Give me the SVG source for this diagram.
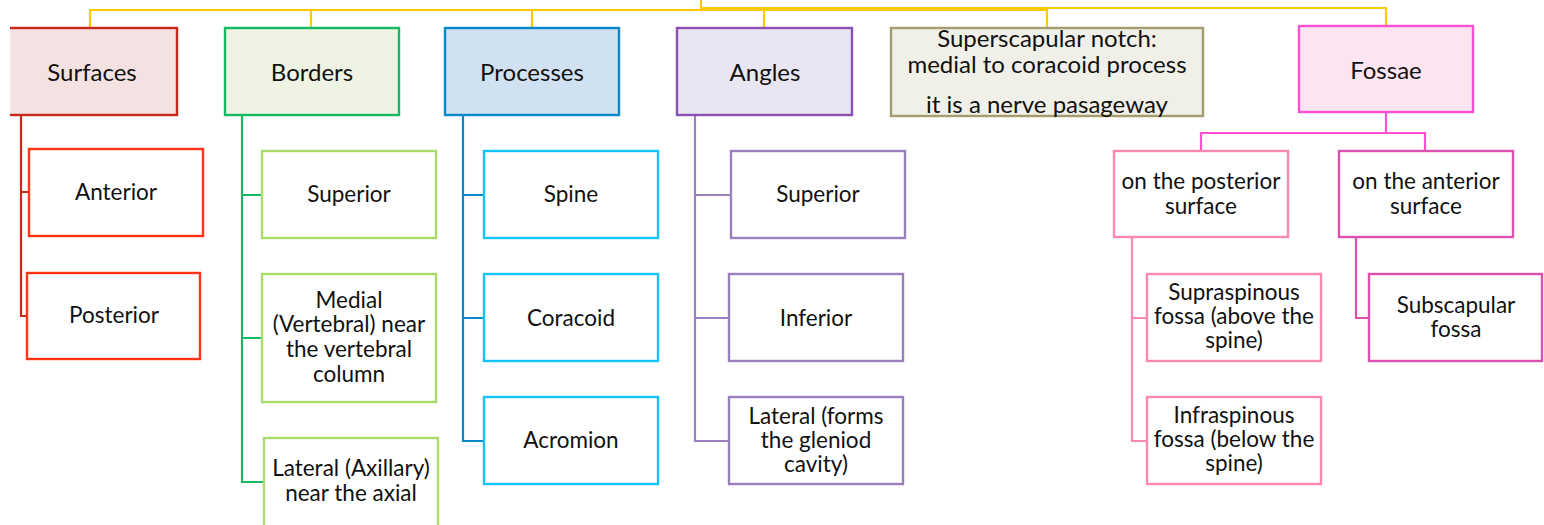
<svg xmlns="http://www.w3.org/2000/svg" width="1544" height="525" viewBox="0 0 1544 525">
  <style>
    .box { stroke-width: 2.4; }
    .head { font-family: Lato, "Open Sans", sans-serif; font-size: 24px; fill: #111; text-anchor: middle; }
    .lbl { font-family: Lato, "Open Sans", sans-serif; font-size: 22.5px; fill: #111; text-anchor: middle; }
    .wire { fill: none; stroke-width: 2.2; }
  </style>
  <defs>
    <clipPath id="page">
      <rect x="10" y="0" width="1534" height="525"/>
    </clipPath>
  </defs>
  <rect x="0" y="0" width="1544" height="525" fill="#ffffff"/>

  <g clip-path="url(#page)">
    <!-- connectors -->
    <g id="connectors">
      <!-- top-level bar -->
      <path class="wire" stroke="#ffc800" d="M701 0 V9 M90 28 V10 H701 M311 28 V10 M532 28 V10 M701 10 H1047 V28 M701 8 H1386 V26 M764 28 V8"/>
      <!-- Surfaces -->
      <path class="wire" stroke="#c8281a" d="M21 115 V316 H27 M21 192 H29"/>
      <!-- Borders -->
      <path class="wire" stroke="#12b862" d="M242 115 V482 H263 M242 195 H262 M242 338 H262"/>
      <!-- Processes -->
      <path class="wire" stroke="#0a88cc" d="M463 115 V441 H484 M463 195 H484 M463 318 H484"/>
      <!-- Angles -->
      <path class="wire" stroke="#9a80bc" d="M695 115 V441 H729 M695 195 H731 M695 318 H729"/>
      <!-- Fossae -->
      <path class="wire" stroke="#ff50d4" d="M1386 112 V133 M1201 151 V133 H1425 V151"/>
      <path class="wire" stroke="#ff88b0" d="M1132 237 V441 H1147 M1132 318 H1147"/>
      <path class="wire" stroke="#dc50b0" d="M1356 237 V318 H1369"/>
    </g>

    <!-- Surfaces -->
    <g id="surfaces">
      <rect class="box" x="4" y="28" width="173" height="87" fill="#f4e2e2" stroke="#c8281a"/>
      <text class="head" x="92" y="81">Surfaces</text>
    </g>
    <g id="surf-anterior">
      <rect class="box" x="29" y="149" width="174" height="87" fill="#fff" stroke="#ff3414"/>
      <text class="lbl" x="116" y="200">Anterior</text>
    </g>
    <g id="surf-posterior">
      <rect class="box" x="27" y="273" width="173" height="86" fill="#fff" stroke="#ff3414"/>
      <text class="lbl" x="114" y="323">Posterior</text>
    </g>

    <!-- Borders -->
    <g id="borders">
      <rect class="box" x="225" y="28" width="174" height="87" fill="#eff3e4" stroke="#12b862"/>
      <text class="head" x="312" y="81">Borders</text>
    </g>
    <g id="border-superior">
      <rect class="box" x="262" y="151" width="174" height="87" fill="#fff" stroke="#a8da6c"/>
      <text class="lbl" x="349" y="202">Superior</text>
    </g>
    <g id="border-medial">
      <rect class="box" x="262" y="274" width="174" height="128" fill="#fff" stroke="#a8da6c"/>
      <text class="lbl" x="349" y="308">Medial</text>
      <text class="lbl" x="349" y="332">(Vertebral) near</text>
      <text class="lbl" x="349" y="357">the vertebral</text>
      <text class="lbl" x="349" y="382">column</text>
    </g>
    <g id="border-lateral">
      <rect class="box" x="264" y="438" width="174" height="92" fill="#fff" stroke="#a8da6c"/>
      <text class="lbl" x="351" y="476">Lateral (Axillary)</text>
      <text class="lbl" x="351" y="501">near the axial</text>
    </g>

    <!-- Processes -->
    <g id="processes">
      <rect class="box" x="445" y="28" width="174" height="87" fill="#d0e2f2" stroke="#0a88cc"/>
      <text class="head" x="532" y="81">Processes</text>
    </g>
    <g id="proc-spine">
      <rect class="box" x="484" y="151" width="174" height="87" fill="#fff" stroke="#14c4f4"/>
      <text class="lbl" x="571" y="202">Spine</text>
    </g>
    <g id="proc-coracoid">
      <rect class="box" x="484" y="274" width="174" height="87" fill="#fff" stroke="#14c4f4"/>
      <text class="lbl" x="571" y="326">Coracoid</text>
    </g>
    <g id="proc-acromion">
      <rect class="box" x="484" y="397" width="174" height="87" fill="#fff" stroke="#14c4f4"/>
      <text class="lbl" x="571" y="448">Acromion</text>
    </g>

    <!-- Angles -->
    <g id="angles">
      <rect class="box" x="677" y="28" width="175" height="87" fill="#e8e6f2" stroke="#8c50b4"/>
      <text class="head" x="765" y="81">Angles</text>
    </g>
    <g id="angle-superior">
      <rect class="box" x="731" y="151" width="174" height="87" fill="#fff" stroke="#9a80bc"/>
      <text class="lbl" x="818" y="202">Superior</text>
    </g>
    <g id="angle-inferior">
      <rect class="box" x="729" y="274" width="174" height="87" fill="#fff" stroke="#9a80bc"/>
      <text class="lbl" x="816" y="326">Inferior</text>
    </g>
    <g id="angle-lateral">
      <rect class="box" x="729" y="397" width="174" height="87" fill="#fff" stroke="#9a80bc"/>
      <text class="lbl" x="816" y="424">Lateral (forms</text>
      <text class="lbl" x="816" y="448">the gleniod</text>
      <text class="lbl" x="816" y="472">cavity)</text>
    </g>

    <!-- Superscapular notch -->
    <g id="notch">
      <rect class="box" x="891" y="28" width="312" height="88" fill="#f0f0e8" stroke="#a49c6c"/>
      <text class="head" x="1047" y="47">Superscapular notch:</text>
      <text class="head" x="1047" y="73">medial to coracoid process</text>
      <text class="head" x="1047" y="113">it is a nerve pasageway</text>
    </g>

    <!-- Fossae -->
    <g id="fossae">
      <rect class="box" x="1299" y="26" width="174" height="86" fill="#fde4f1" stroke="#ff50d4"/>
      <text class="head" x="1386" y="79">Fossae</text>
    </g>
    <g id="fossae-posterior">
      <rect class="box" x="1114" y="151" width="174" height="86" fill="#fff" stroke="#ff88b0"/>
      <text class="lbl" x="1201" y="189">on the posterior</text>
      <text class="lbl" x="1201" y="214">surface</text>
    </g>
    <g id="fossae-anterior">
      <rect class="box" x="1339" y="151" width="174" height="86" fill="#fff" stroke="#dc50b0"/>
      <text class="lbl" x="1426" y="189">on the anterior</text>
      <text class="lbl" x="1426" y="214">surface</text>
    </g>
    <g id="supraspinous">
      <rect class="box" x="1147" y="274" width="174" height="87" fill="#fff" stroke="#ff88b0"/>
      <text class="lbl" x="1234" y="300">Supraspinous</text>
      <text class="lbl" x="1234" y="324">fossa (above the</text>
      <text class="lbl" x="1234" y="348">spine)</text>
    </g>
    <g id="infraspinous">
      <rect class="box" x="1147" y="397" width="174" height="87" fill="#fff" stroke="#ff88b0"/>
      <text class="lbl" x="1234" y="423">Infraspinous</text>
      <text class="lbl" x="1234" y="447">fossa (below the</text>
      <text class="lbl" x="1234" y="471">spine)</text>
    </g>
    <g id="subscapular">
      <rect class="box" x="1369" y="274" width="173" height="87" fill="#fff" stroke="#dc50b0"/>
      <text class="lbl" x="1456" y="313">Subscapular</text>
      <text class="lbl" x="1456" y="337">fossa</text>
    </g>
  </g>
</svg>
